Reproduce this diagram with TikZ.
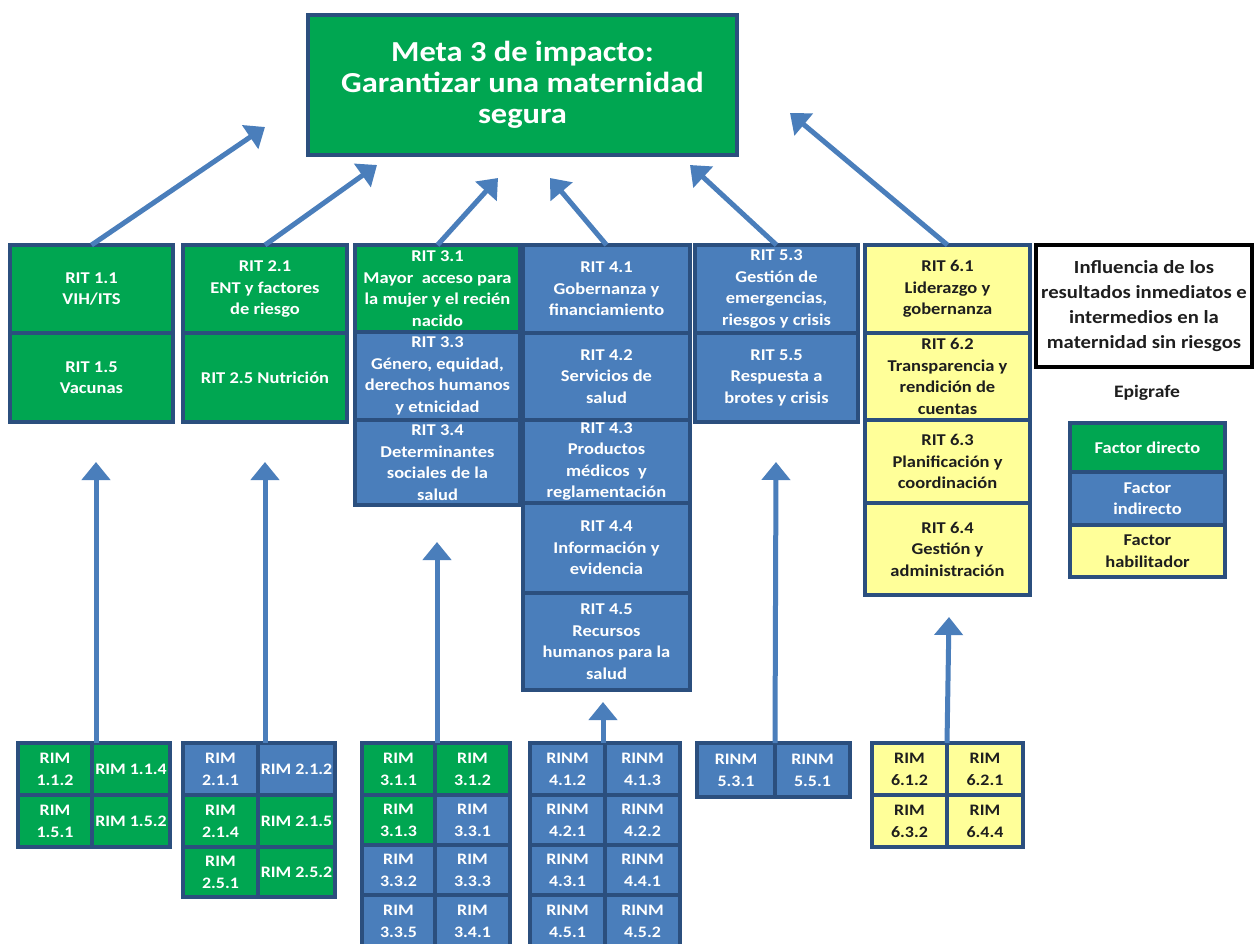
\documentclass[tikz,border=0pt]{standalone}
\usepackage{fontspec}
\setmainfont{Carlito}[FakeStretch=1.12]
\usetikzlibrary{arrows.meta}
\definecolor{gr}{HTML}{00A651}
\definecolor{bl}{HTML}{4A7EBB}
\definecolor{yl}{HTML}{FFFF99}
\definecolor{bd}{HTML}{2B4F7E}
\definecolor{ar}{HTML}{4A7EBB}
\definecolor{dk}{HTML}{1E1E1E}
\newcommand\cellbox[7]{\node[cell,#2,minimum width={#5pt-#3pt},minimum height={#6pt-#4pt}] (#1) at ({(#3+#5)/2},{(#4+#6)/2}) {#7};}
\tikzset{
  cell/.style={draw=bd, line width=3.5pt, inner sep=0pt, outer sep=0pt, align=center,
    font=\bfseries\fontsize{16.5}{21.5}\selectfont},
  grc/.style={fill=gr, text=white},
  blc/.style={fill=bl, text=white},
  ylc/.style={fill=yl, text=dk},
  rimtxt/.style={font=\bfseries\fontsize{16}{22}\selectfont},
  arr/.style={draw=ar, line width=5pt, -{Triangle[width=28pt,length=18pt]}},
}
\begin{document}
\begin{tikzpicture}[x=1pt,y=-1pt]
\fill[white] (0,0) rectangle (1255,943);
\useasboundingbox (0,0) rectangle (1255,943);
% title
\cellbox{meta}{grc,font=\bfseries\fontsize{29}{31}\selectfont}{308}{15}{737}{155}{Meta 3 de impacto:\\Garantizar una maternidad\\segura}
% columns
\cellbox{c11}{grc}{10}{245}{173}{333}{RIT 1.1\\VIH/ITS}
\cellbox{c15}{grc}{10}{333}{173}{422}{RIT 1.5\\Vacunas}
\cellbox{c21}{grc}{183}{245}{347}{333}{RIT 2.1\\ENT y factores\\de riesgo}
\cellbox{c25}{grc}{183}{333}{347}{422}{RIT 2.5 Nutrición}
\cellbox{c31}{grc}{355}{245}{520}{332}{RIT 3.1\\Mayor\ \ acceso para\\la mujer y el recién\\nacido}
\cellbox{c33}{blc}{355}{332}{520}{420}{RIT 3.3\\Género, equidad,\\derechos humanos\\y etnicidad}
\cellbox{c34}{blc}{355}{420}{520}{505}{RIT 3.4\\Determinantes\\sociales de la\\salud}
\cellbox{c41}{blc}{523}{245}{690}{333}{RIT 4.1\\Gobernanza y\\financiamiento}
\cellbox{c42}{blc}{523}{333}{690}{420}{RIT 4.2\\Servicios de\\salud}
\cellbox{c43}{blc}{523}{420}{690}{503}{RIT 4.3\\Productos\\médicos\ \ y\\reglamentación}
\cellbox{c44}{blc}{523}{503}{690}{593}{RIT 4.4\\Información y\\evidencia}
\cellbox{c45}{blc}{523}{593}{690}{690}{RIT 4.5\\Recursos\\humanos para la\\salud}
\cellbox{c53}{blc}{695}{245}{858}{333}{RIT 5.3\\Gestión de\\emergencias,\\riesgos y crisis}
\cellbox{c55}{blc}{695}{333}{858}{422}{RIT 5.5\\Respuesta a\\brotes y crisis}
\cellbox{c61}{ylc}{865}{245}{1030}{333}{RIT 6.1\\Liderazgo y\\gobernanza}
\cellbox{c62}{ylc}{865}{333}{1030}{420}{RIT 6.2\\Transparencia y\\rendición de\\cuentas}
\cellbox{c63}{ylc}{865}{420}{1030}{503}{RIT 6.3\\Planificación y\\coordinación}
\cellbox{c64}{ylc}{865}{503}{1030}{595}{RIT 6.4\\Gestión y\\administración}
% influence box and legend
\node[draw=black, line width=4pt, minimum width=216pt, minimum height=122pt, inner sep=0pt, align=center, text=dk,
  font=\bfseries\fontsize{18.5}{25}\selectfont] (infl) at (1144,306)
  {Influencia de los\\resultados inmediatos e\\intermedios en la\\maternidad sin riesgos};
\node[text=dk, font=\bfseries\fontsize{17.5}{20}\selectfont] (epi) at (1147,393) {Epigrafe};
\cellbox{lg1}{grc}{1070}{423}{1225}{472}{Factor directo}
\cellbox{lg2}{blc}{1070}{472}{1225}{525}{Factor\\indirecto}
\cellbox{lg3}{ylc}{1070}{525}{1225}{577}{Factor\\habilitador}
% bottom group 1
\cellbox{g1a}{grc,rimtxt}{18}{743}{92}{795}{RIM\\1.1.2}
\cellbox{g1b}{grc,rimtxt}{92}{743}{170}{795}{RIM 1.1.4}
\cellbox{g1c}{grc,rimtxt}{18}{795}{92}{847}{RIM\\1.5.1}
\cellbox{g1d}{grc,rimtxt}{92}{795}{170}{847}{RIM 1.5.2}
% group 2
\cellbox{g2a}{blc,rimtxt}{183}{743}{258}{795}{RIM\\2.1.1}
\cellbox{g2b}{blc,rimtxt}{258}{743}{335}{795}{RIM 2.1.2}
\cellbox{g2c}{grc,rimtxt}{183}{795}{258}{847}{RIM\\2.1.4}
\cellbox{g2d}{grc,rimtxt}{258}{795}{335}{847}{RIM 2.1.5}
\cellbox{g2e}{grc,rimtxt}{183}{847}{258}{897}{RIM\\2.5.1}
\cellbox{g2f}{grc,rimtxt}{258}{847}{335}{897}{RIM 2.5.2}
% group 3
\cellbox{g3a}{grc,rimtxt}{362}{743}{435}{795}{RIM\\3.1.1}
\cellbox{g3b}{grc,rimtxt}{435}{743}{510}{795}{RIM\\3.1.2}
\cellbox{g3c}{grc,rimtxt}{362}{795}{435}{845}{RIM\\3.1.3}
\cellbox{g3d}{blc,rimtxt}{435}{795}{510}{845}{RIM\\3.3.1}
\cellbox{g3e}{blc,rimtxt}{362}{845}{435}{895}{RIM\\3.3.2}
\cellbox{g3f}{blc,rimtxt}{435}{845}{510}{895}{RIM\\3.3.3}
\cellbox{g3g}{blc,rimtxt}{362}{895}{435}{947}{RIM\\3.3.5}
\cellbox{g3h}{blc,rimtxt}{435}{895}{510}{947}{RIM\\3.4.1}
% group 4
\cellbox{g4a}{blc,rimtxt}{530}{743}{605}{795}{RINM\\4.1.2}
\cellbox{g4b}{blc,rimtxt}{605}{743}{680}{795}{RINM\\4.1.3}
\cellbox{g4c}{blc,rimtxt}{530}{795}{605}{845}{RINM\\4.2.1}
\cellbox{g4d}{blc,rimtxt}{605}{795}{680}{845}{RINM\\4.2.2}
\cellbox{g4e}{blc,rimtxt}{530}{845}{605}{895}{RINM\\4.3.1}
\cellbox{g4f}{blc,rimtxt}{605}{845}{680}{895}{RINM\\4.4.1}
\cellbox{g4g}{blc,rimtxt}{530}{895}{605}{947}{RINM\\4.5.1}
\cellbox{g4h}{blc,rimtxt}{605}{895}{680}{947}{RINM\\4.5.2}
% group 5
\cellbox{g5a}{blc,rimtxt}{697}{743}{775}{797}{RINM\\5.3.1}
\cellbox{g5b}{blc,rimtxt}{775}{743}{850}{797}{RINM\\5.5.1}
% group 6
\cellbox{g6a}{ylc,rimtxt}{872}{743}{947}{795}{RIM\\6.1.2}
\cellbox{g6b}{ylc,rimtxt}{947}{743}{1023}{795}{RIM\\6.2.1}
\cellbox{g6c}{ylc,rimtxt}{872}{795}{947}{847}{RIM\\6.3.2}
\cellbox{g6d}{ylc,rimtxt}{947}{795}{1023}{847}{RIM\\6.4.4}
% arrow tips
\coordinate (d1) at (265,127);
\coordinate (d2) at (377,165);
\coordinate (d3) at (498,178);
\coordinate (d4) at (550,178);
\coordinate (d5) at (690,165);
\coordinate (d6) at (790,113);
\coordinate (t1) at (96,462);
\coordinate (t2) at (265,462);
\coordinate (t3) at (437,542);
\coordinate (t4) at (603,702);
\coordinate (t5) at (776,462);
\coordinate (t6) at (949,617);
% diagonal arrows
\draw[arr] (c11.north) -- (d1);
\draw[arr] (c21.north) -- (d2);
\draw[arr] (c31.north) -- (d3);
\draw[arr] (c41.north) -- (d4);
\draw[arr] (c53.north) -- (d5);
\draw[arr] (c61.north) -- (d6);
% vertical arrows
\draw[arr] ([xshift=4pt]g1a.north east) -- (t1);
\draw[arr] ([xshift=7pt]g2a.north east) -- (t2);
\draw[arr] ([xshift=2pt]g3a.north east) -- (t3);
\draw[arr] ([xshift=-2pt]g4a.north east) -- (t4);
\draw[arr] (g5a.north east) -- (t5);
\draw[arr] (g6a.north east) -- (t6);
\end{tikzpicture}
\end{document}
